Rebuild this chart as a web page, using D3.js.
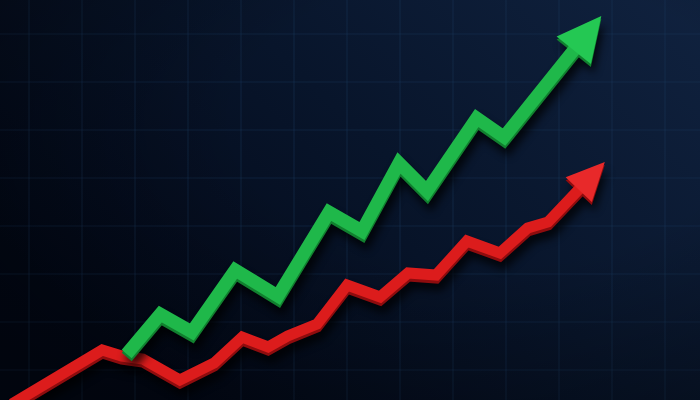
<!DOCTYPE html>
<html><head><meta charset="utf-8">
<script src="https://cdn.jsdelivr.net/npm/d3@7/dist/d3.min.js"></script>
<style>html,body{margin:0;padding:0;background:#06101f;}svg{display:block;}</style>
</head><body>
<svg id="c" width="700" height="400"></svg>
<script>
// Data (abstract units: x 0-100, y 0-100)
const greenX = [18.1, 22.9, 27.4, 33.6, 39.7, 47.0, 51.7, 57.0, 61.0, 68.1, 72.0, 85.9];
const greenY = [11.5, 21.5, 17.0, 32.5, 26.0, 47.0, 42.25, 59.25, 52.25, 70.5, 65.75, 96.0];
const redX = [1.7, 14.6, 17.4, 20.4, 25.7, 30.6, 34.6, 38.3, 41.1, 45.3, 49.6, 54.3, 58.3, 62.3, 66.7, 71.4, 75.4, 78.3, 86.4];
const redY = [-1.0, 12.5, 11.0, 10.25, 5.0, 9.25, 15.75, 13.25, 16.0, 19.0, 28.75, 25.75, 31.75, 31.25, 39.75, 36.75, 43.0, 44.5, 59.5];

const W = 700, H = 400;
const svg = d3.select("#c");
const x = d3.scaleLinear().domain([0, 100]).range([0, W]);
const y = d3.scaleLinear().domain([0, 100]).range([H, 0]);

const defs = svg.append("defs");
const bg = defs.append("linearGradient").attr("id","bg").attr("x1","0").attr("y1","0.6").attr("x2","1").attr("y2","0");
bg.append("stop").attr("offset","0").attr("stop-color","#020817");
bg.append("stop").attr("offset","0.5").attr("stop-color","#08152b");
bg.append("stop").attr("offset","1").attr("stop-color","#10223f");
const vg = defs.append("radialGradient").attr("id","vg").attr("cx","0.7").attr("cy","0.3").attr("r","0.9");
vg.append("stop").attr("offset","0.4").attr("stop-color","#000").attr("stop-opacity",0);
vg.append("stop").attr("offset","1").attr("stop-color","#000").attr("stop-opacity",0.4);
const f = defs.append("filter").attr("id","sh").attr("x","-20%").attr("y","-20%").attr("width","140%").attr("height","140%");
f.append("feGaussianBlur").attr("stdDeviation",4);

svg.append("rect").attr("width",W).attr("height",H).attr("fill","url(#bg)");

// grid
const g = svg.append("g").attr("stroke","#1c3a5e").attr("stroke-opacity",0.38).attr("stroke-width",1.2);
d3.range(29, W, 53).forEach(px => g.append("line").attr("x1",px).attr("x2",px).attr("y1",0).attr("y2",H));
d3.range(34, H, 48).forEach(py => g.append("line").attr("y1",py).attr("y2",py).attr("x1",0).attr("x2",W));
svg.append("rect").attr("width",W).attr("height",H).attr("fill","url(#vg)");

function drawArrow(xs, ys, main, side, light, sw, headLen, headHalf) {
  const pts = xs.map((v,i)=>[x(v), y(ys[i])]);
  const tip = pts[pts.length-1], prev = pts[pts.length-2];
  const dx = tip[0]-prev[0], dy = tip[1]-prev[1], L = Math.hypot(dx,dy);
  const ux = dx/L, uy = dy/L, px = -uy, py = ux;
  const base = [tip[0]-ux*headLen, tip[1]-uy*headLen];
  const shaftEnd = [tip[0]-ux*(headLen-4), tip[1]-uy*(headLen-4)];
  const linePts = pts.slice(0,-1).concat([shaftEnd]);
  const head = [tip, [base[0]+px*headHalf, base[1]+py*headHalf], [base[0]-px*headHalf, base[1]-py*headHalf]];
  const line = d3.line();
  const grp = svg.append("g");
  const sg = grp.append("g").attr("transform","translate(3,9)").attr("filter","url(#sh)").attr("opacity",0.75);
  sg.append("path").attr("d",line(linePts)).attr("fill","none").attr("stroke","#000").attr("stroke-width",sw+2).attr("stroke-linejoin","miter");
  sg.append("path").attr("d",line(head)+"Z").attr("fill","#000");
  const sd = grp.append("g").attr("transform","translate(0,3)");
  sd.append("path").attr("d",line(linePts)).attr("fill","none").attr("stroke",side).attr("stroke-width",sw).attr("stroke-linejoin","miter");
  sd.append("path").attr("d",line(head)+"Z").attr("fill",side);
  grp.append("path").attr("d",line(linePts)).attr("fill","none").attr("stroke",main).attr("stroke-width",sw).attr("stroke-linejoin","miter");
  grp.append("path").attr("d",line(head)+"Z").attr("fill",light);
}

drawArrow(redX, redY, "#dc1c1c", "#8e0c0e", "#e8292a", 11, 38, 18);
drawArrow(greenX, greenY, "#1fb84a", "#11802f", "#24c853", 13, 44, 22);
</script>
</body></html>
